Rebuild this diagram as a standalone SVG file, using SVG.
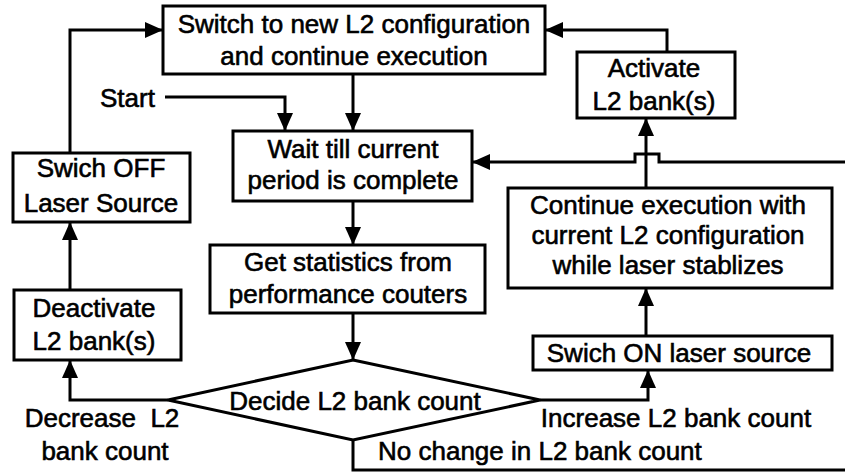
<svg xmlns="http://www.w3.org/2000/svg" width="845" height="474" viewBox="0 0 845 474">
<style>
.box{fill:#fff;stroke:#000;stroke-width:3}
.c{fill:none;stroke:#000;stroke-width:3}
text{font-family:"Liberation Sans",Arial,sans-serif;font-size:26px;fill:#000;stroke:#000;stroke-width:0.6;text-anchor:middle}
.s{text-anchor:start}
</style>
<defs>
<marker id="a" markerUnits="userSpaceOnUse" markerWidth="18" markerHeight="16" viewBox="0 0 18 16" refX="17" refY="8" orient="auto">
<path d="M0,0 L18,8 L0,16 Z" fill="#000"/>
</marker>
</defs>
<g id="connectors">
<path class="c" d="M70,153 V30 H162" marker-end="url(#a)"/>
<path class="c" d="M667,52 V30 H546" marker-end="url(#a)"/>
<path class="c" d="M165,97 H285 V130" marker-end="url(#a)"/>
<path class="c" d="M353,74 V130" marker-end="url(#a)"/>
<path class="c" d="M353,201 V244" marker-end="url(#a)"/>
<path class="c" d="M353,313 V359" marker-end="url(#a)"/>
<path class="c" d="M168,400 H70 V361" marker-end="url(#a)"/>
<path class="c" d="M70,290 V223" marker-end="url(#a)"/>
<path class="c" d="M540,400 H648 V371" marker-end="url(#a)"/>
<path class="c" d="M646,336 V289" marker-end="url(#a)"/>
<path class="c" d="M646,188 V119" marker-end="url(#a)"/>
<path class="c" d="M353,440 V470 H849 V162 H659 V154 H635 V162 H473" marker-end="url(#a)"/>
</g>
<g id="switch-config">
<rect class="box" x="163" y="6" width="382" height="68"/>
<text x="354" y="33">Switch to new L2 configuration</text>
<text x="354" y="65">and continue execution</text>
</g>
<g id="activate">
<rect class="box" x="577" y="52" width="158" height="66"/>
<text x="654" y="77">Activate</text>
<text x="654" y="110">L2 bank(s)</text>
</g>
<g id="start">
<text class="s" x="100" y="107">Start</text>
</g>
<g id="wait">
<rect class="box" x="233" y="131" width="239" height="70"/>
<text x="353" y="158">Wait till current</text>
<text x="353" y="189">period is complete</text>
</g>
<g id="swich-off">
<rect class="box" x="13" y="153" width="177" height="69"/>
<text x="101" y="177">Swich OFF</text>
<text x="101" y="212">Laser Source</text>
</g>
<g id="continue">
<rect class="box" x="508" y="188" width="324" height="100"/>
<text x="668" y="214">Continue execution with</text>
<text x="668" y="244">current L2 configuration</text>
<text x="668" y="274">while laser stablizes</text>
</g>
<g id="stats">
<rect class="box" x="210" y="245" width="275" height="68"/>
<text x="348" y="271">Get statistics from</text>
<text x="348" y="303">performance couters</text>
</g>
<g id="deactivate">
<rect class="box" x="14" y="290" width="167" height="70"/>
<text x="94" y="317">Deactivate</text>
<text x="94" y="350">L2 bank(s)</text>
</g>
<g id="swich-on">
<rect class="box" x="533" y="336" width="299" height="34"/>
<text x="679" y="362">Swich ON laser source</text>
</g>
<g id="decide">
<path class="box" d="M353,360 L540,400 L353,440 L168,400 Z"/>
<text x="355" y="410">Decide L2 bank count</text>
</g>
<g id="labels">
<text x="102" y="427" xml:space="preserve">Decrease  L2</text>
<text x="105" y="460">bank count</text>
<text x="676" y="427">Increase L2 bank count</text>
<text class="s" x="378" y="460">No change in L2 bank count</text>
</g>
</svg>
